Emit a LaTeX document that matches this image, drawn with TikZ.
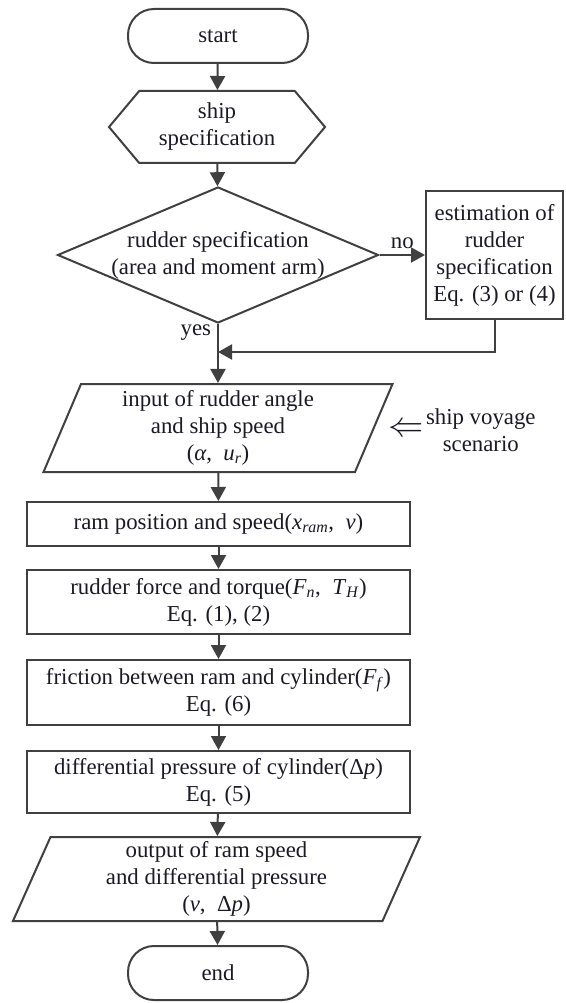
\documentclass[tikz,border=0pt]{standalone}
\usepackage{fontspec}
\setmainfont{Liberation Serif}
\usetikzlibrary{shapes.geometric,shapes.symbols,arrows.meta,positioning}
\definecolor{linegray}{HTML}{404040}
\definecolor{inkblack}{HTML}{1A1A24}
\tikzset{
  base/.style={draw=linegray,line width=2pt,text=inkblack,align=center,inner sep=1pt},
  terminal/.style={base,rectangle,rounded corners=26pt,minimum width=180pt,minimum height=54pt},
  prep/.style={base,signal,signal to=west and east,signal pointer angle=100,minimum width=216pt,minimum height=72pt},
  decision/.style={base,diamond,minimum width=321pt,minimum height=136pt},
  process/.style={base,rectangle,minimum width=383pt},
  io/.style={base,trapezium,trapezium left angle=64,trapezium right angle=116,trapezium stretches body},
  lbl/.style={text=inkblack,align=center,inner sep=1pt}
}
\begin{document}
\begin{tikzpicture}[x=1pt,y=-1pt,font=\fontsize{22.8}{27}\selectfont]
  \useasboundingbox (0,0) rectangle (565,1003);
  \path
    (218,36) node[terminal] (start) {start}
    (217,127) node[prep] (shipspec) {ship\\specification}
    (218,255) node[decision] (rudspec) {}
    (494.5,255) node[base,minimum width=137pt,minimum height=128pt] (estim)
      {estimation of\\rudder\\specification\\Eq. (3) or (4)}
    (218,428) node[io,minimum width=349pt,minimum height=88pt] (input)
      {input of rudder angle\\and ship speed\\(\textit{α},\enspace\textit{u}\textsubscript{\textit{r}})}
    (218.5,524) node[process,minimum height=44pt] (rampos)
      {ram position and speed(\textit{x}\textsubscript{\textit{ram}},\enspace\textit{v})}
    (218.5,602) node[process,minimum height=64pt] (force)
      {rudder force and torque(\textit{F}\textsubscript{\textit{n}},\enspace\textit{T}\textsubscript{\textit{H}})\\Eq. (1), (2)}
    (218.5,692.5) node[process,minimum height=65pt] (friction)
      {friction between ram and cylinder(\textit{F}\textsubscript{\textit{f}})\\Eq. (6)}
    (218.5,782) node[process,minimum height=62pt] (diffp)
      {differential pressure of cylinder(Δ\textit{p})\\Eq. (5)}
    (216.5,879) node[io,minimum width=407pt,minimum height=84pt] (output)
      {output of ram speed\\and differential pressure\\(\textit{v},\enspace Δ\textit{p})}
    (218,973) node[terminal] (stop) {end};
  \node[lbl] (rudspectext) at (rudspec.center) {rudder specification\\(area and moment arm)};
  \node[lbl] (implies) at (406,430) {\scalebox{1.7}{$\Leftarrow$}};
  \node[lbl,right=0pt of implies] (scenario) {ship voyage\\scenario};
  \coordinate (merge) at (218,352);
  \begin{scope}[draw=linegray,line width=2pt,-{Triangle[length=14pt,width=15pt]}]
    \draw (start) to (shipspec);
    \draw (shipspec) to (rudspec);
    \draw (rudspec.east) to node[lbl,above=4pt]{no} (estim.west);
    \draw (rudspec) to node[lbl,left=5pt,pos=0.15]{yes} (input);
    \draw (estim) |- (merge);
    \draw (input) to (rampos);
    \draw (rampos) to (force);
    \draw (force) to (friction);
    \draw (friction) to (diffp);
    \draw (diffp) to (output);
    \draw (output) to (stop);
  \end{scope}
\end{tikzpicture}
\end{document}
